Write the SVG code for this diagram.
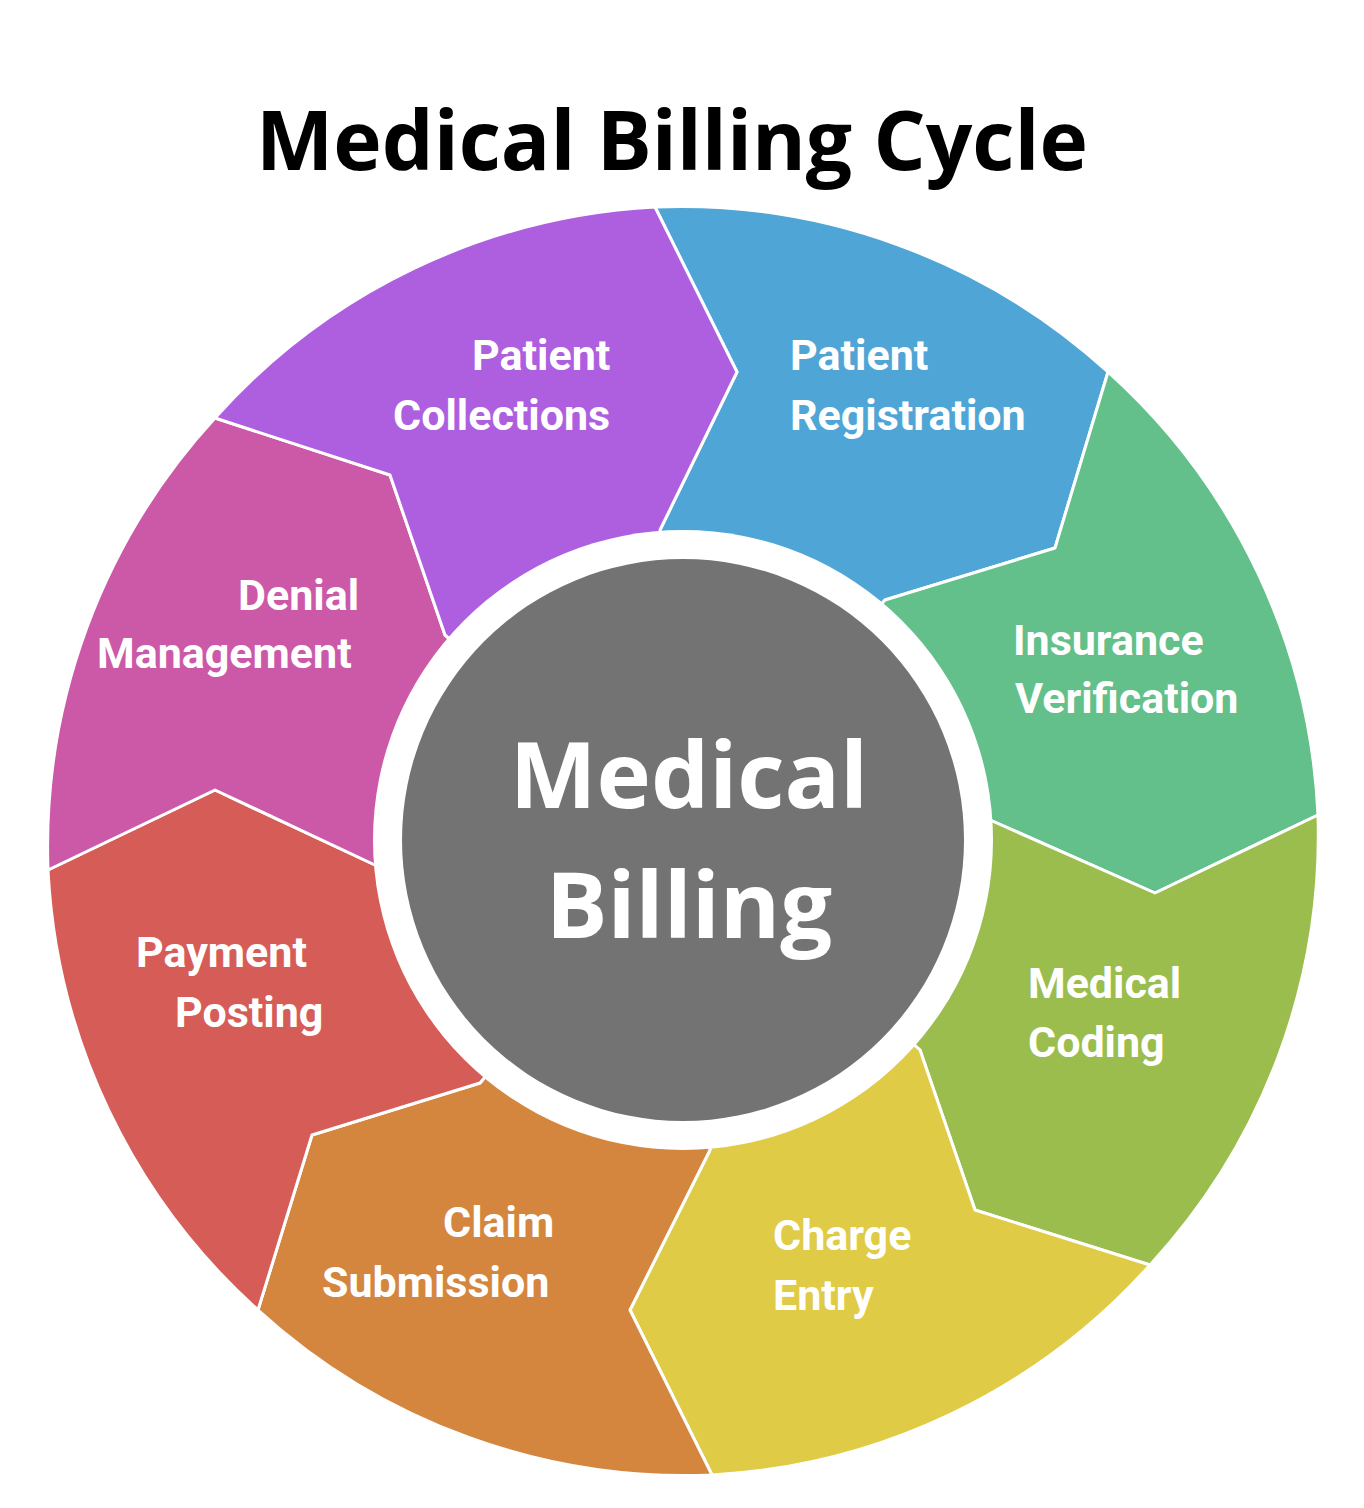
<svg xmlns="http://www.w3.org/2000/svg" width="1364" height="1508" viewBox="0 0 1364 1508">
<style>
.seg{stroke:#fff;stroke-width:3;stroke-linejoin:round}
.lbl{font-family:Roboto,"Liberation Sans",sans-serif;font-weight:700;font-size:43px;fill:#fff}
</style>
<rect width="1364" height="1508" fill="#fff"/>
<text x="672" y="170" text-anchor="middle" font-family="'Open Sans','Liberation Sans',sans-serif" font-weight="700" font-size="82" fill="#000">Medical Billing Cycle</text>
<g id="segments">
<g id="registration"><path class="seg" fill="#4fa6d6" d="M655,207 A634,634 0 0 1 1108,372 L1055,548 L885,600 L683,840 L660,530 L737,372 Z"/>
<text class="lbl" x="790" y="370">Patient</text><text class="lbl" x="790" y="430">Registration</text></g>
<g id="insurance"><path class="seg" fill="#63c08a" d="M1108,372 A634,634 0 0 1 1318,815 L1155,893 L990,820 L683,840 L885,600 L1055,548 Z"/>
<text class="lbl" x="1013" y="655">Insurance</text><text class="lbl" x="1015" y="713">Verification</text></g>
<g id="coding"><path class="seg" fill="#9bbd4e" d="M1318,815 A634,634 0 0 1 1150,1265 L975,1210 L920,1050 L683,840 L990,820 L1155,893 Z"/>
<text class="lbl" x="1028" y="998">Medical</text><text class="lbl" x="1028" y="1057">Coding</text></g>
<g id="charge"><path class="seg" fill="#dfcb45" d="M1150,1265 A634,634 0 0 1 712,1475 L630,1310 L710,1150 L683,840 L920,1050 L975,1210 Z"/>
<text class="lbl" x="773" y="1250">Charge</text><text class="lbl" x="773" y="1310">Entry</text></g>
<g id="claim"><path class="seg" fill="#d4863e" d="M712,1475 A634,634 0 0 1 258,1310 L312,1135 L480,1083 L683,840 L710,1150 L630,1310 Z"/>
<text class="lbl" x="443" y="1237">Claim</text><text class="lbl" x="322" y="1297">Submission</text></g>
<g id="payment"><path class="seg" fill="#d65c58" d="M258,1310 A634,634 0 0 1 48,870 L215,790 L375,865 L683,840 L480,1083 L312,1135 Z"/>
<text class="lbl" x="136" y="967">Payment</text><text class="lbl" x="175" y="1027">Posting</text></g>
<g id="denial"><path class="seg" fill="#cc58a8" d="M48,870 A634,634 0 0 1 215,418 L390,475 L445,635 L683,840 L375,865 L215,790 Z"/>
<text class="lbl" x="238" y="610">Denial</text><text class="lbl" x="97" y="668">Management</text></g>
<g id="collections"><path class="seg" fill="#ad5fe0" d="M215,418 A634,634 0 0 1 655,207 L737,372 L660,530 L683,840 L445,635 L390,475 Z"/>
<text class="lbl" x="472" y="370">Patient</text><text class="lbl" x="393" y="430">Collections</text></g>
</g>
<g id="center">
<circle cx="683" cy="840" r="310" fill="#fff"/>
<circle cx="683" cy="840" r="281" fill="#737373"/>
<text x="689" y="808" text-anchor="middle" font-family="'Open Sans','Liberation Sans',sans-serif" font-weight="700" font-size="92" fill="#fff">Medical</text>
<text x="689" y="938" text-anchor="middle" font-family="'Open Sans','Liberation Sans',sans-serif" font-weight="700" font-size="92" fill="#fff">Billing</text>
</g>
</svg>
